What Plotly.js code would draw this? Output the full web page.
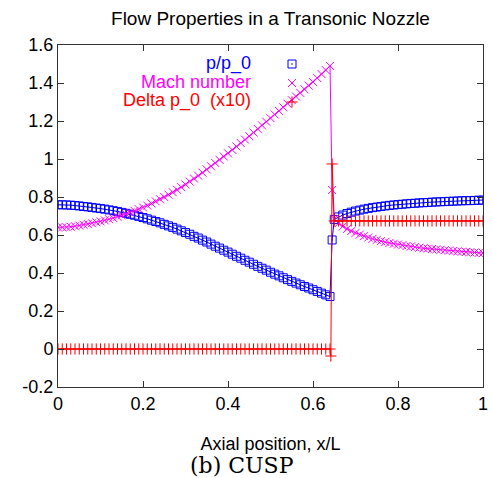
<!DOCTYPE html>
<html>
<head>
<meta charset="utf-8">
<script src="https://cdn.plot.ly/plotly-3.0.1.min.js"></script>
<style>html,body{margin:0;padding:0;background:#fff;}#chart{width:492px;height:478px;}</style>
</head>
<body>
<div id="chart"></div>
<script>
// ---- Data ----
const xPre = [0.00,0.01,0.02,0.03,0.04,0.05,0.06,0.07,0.08,0.09,0.10,0.11,0.12,0.13,0.14,0.15,0.16,0.17,0.18,0.19,0.20,0.21,0.22,0.23,0.24,0.25,0.26,0.27,0.28,0.29,0.30,0.31,0.32,0.33,0.34,0.35,0.36,0.37,0.38,0.39,0.40,0.41,0.42,0.43,0.44,0.45,0.46,0.47,0.48,0.49,0.50,0.51,0.52,0.53,0.54,0.55,0.56,0.57,0.58,0.59,0.60,0.61,0.62,0.63,0.64];
const pPre = [0.759,0.759,0.758,0.757,0.755,0.753,0.750,0.748,0.745,0.742,0.739,0.736,0.732,0.728,0.724,0.719,0.714,0.709,0.704,0.698,0.692,0.685,0.678,0.671,0.664,0.656,0.648,0.640,0.631,0.622,0.613,0.604,0.593,0.584,0.573,0.563,0.552,0.541,0.531,0.520,0.510,0.499,0.488,0.478,0.467,0.457,0.446,0.435,0.425,0.415,0.404,0.394,0.385,0.375,0.365,0.356,0.347,0.338,0.329,0.321,0.312,0.303,0.294,0.285,0.276];
const machPre = [0.640,0.640,0.641,0.643,0.646,0.650,0.654,0.658,0.662,0.667,0.672,0.677,0.683,0.689,0.696,0.703,0.711,0.719,0.727,0.736,0.745,0.755,0.766,0.777,0.788,0.800,0.812,0.825,0.838,0.852,0.866,0.881,0.897,0.912,0.928,0.945,0.962,0.979,0.996,1.013,1.030,1.048,1.066,1.084,1.102,1.120,1.139,1.158,1.177,1.196,1.215,1.234,1.253,1.272,1.291,1.310,1.329,1.348,1.367,1.386,1.405,1.426,1.447,1.468,1.490];
const deltaPre = [0,0,0,0,0,0,0,0,0,0,0,0,0,0,0,0,0,0,0,0,0,0,0,0,0,0,0,0,0,0,0,0,0,0,0,0,0,0,0,0,0,0,0,0,0,0,0,0,0,0,0,0,0,0,0,0,0,0,0,0,0,0,0,0,0];

const xShock = [0.645];
const pShock = [0.574];
const machShock = [0.837];
const xDeltaShock = [0.642, 0.645];
const deltaShock = [-0.037, 0.974];

const xPost = [0.65,0.66,0.67,0.68,0.69,0.70,0.71,0.72,0.73,0.74,0.75,0.76,0.77,0.78,0.79,0.80,0.81,0.82,0.83,0.84,0.85,0.86,0.87,0.88,0.89,0.90,0.91,0.92,0.93,0.94,0.95,0.96,0.97,0.98,0.99,1.00];
const pPost = [0.682,0.695,0.705,0.713,0.720,0.726,0.731,0.736,0.740,0.744,0.747,0.750,0.753,0.756,0.758,0.760,0.762,0.764,0.766,0.767,0.769,0.770,0.771,0.773,0.774,0.775,0.776,0.777,0.778,0.779,0.780,0.781,0.781,0.782,0.783,0.784];
const machPost = [0.685,0.662,0.645,0.632,0.621,0.611,0.602,0.594,0.587,0.580,0.574,0.568,0.563,0.558,0.554,0.550,0.546,0.542,0.539,0.536,0.533,0.530,0.528,0.526,0.524,0.522,0.520,0.518,0.516,0.514,0.512,0.511,0.509,0.508,0.506,0.505];
const deltaPost = [0.674,0.674,0.674,0.674,0.674,0.674,0.674,0.674,0.674,0.674,0.674,0.674,0.674,0.674,0.674,0.674,0.674,0.674,0.674,0.674,0.674,0.674,0.674,0.674,0.674,0.674,0.674,0.674,0.674,0.674,0.674,0.674,0.674,0.674,0.674,0.674];

const seriesNames = ['p/p_0', 'Mach number', 'Delta p_0  (x10)'];
const xTickVals = [0, 0.2, 0.4, 0.6, 0.8, 1];
const xTickText = ['0', '0.2', '0.4', '0.6', '0.8', '1'];
const yTickVals = [-0.2, 0, 0.2, 0.4, 0.6, 0.8, 1, 1.2, 1.4, 1.6];
const yTickText = ['-0.2', '0', '0.2', '0.4', '0.6', '0.8', '1', '1.2', '1.4', '1.6'];

// ---- Build traces ----
const BLUE = '#0000ff', MAG = '#ff00ff', RED = '#ff0000';
const xP = xPre.concat(xShock, xPost);
const yP = pPre.concat(pShock, pPost);
const xM = xPre.concat(xShock, xPost);
const yM = machPre.concat(machShock, machPost);
const xD = xPre.concat(xDeltaShock, xPost);
const yD = deltaPre.concat(deltaShock, deltaPost);

function pair(x, y, color, symbol, size, name) {
  return [
    {x: x, y: y, type: 'scatter', mode: 'lines', showlegend: false, hoverinfo: 'skip',
     line: {color: color, width: 1}},
    {x: x, y: y, type: 'scatter', mode: 'markers', name: ' ', showlegend: true, hovertext: name,
     marker: {color: color, symbol: symbol, size: size, line: {color: color, width: 1}}}
  ];
}
const data = [].concat(
  pair(xP, yP, BLUE, 'square-open-dot', 8, seriesNames[0]),
  pair(xM, yM, MAG, 'x-thin-open', 8, seriesNames[1]),
  pair(xD, yD, RED, 'cross-thin-open', 8, seriesNames[2])
);

const font = 'Liberation Sans, Arial, Helvetica, sans-serif';
const axisCommon = {
  showgrid: false, zeroline: false, showline: true, linecolor: '#333', linewidth: 1,
  mirror: 'ticks', ticks: 'inside', ticklen: 6, tickcolor: '#333', tickwidth: 1,
  tickfont: {family: font, size: 18, color: '#000'}, fixedrange: true
};

const layout = {
  width: 492, height: 478,
  margin: {l: 58, r: 9, t: 45, b: 91},
  paper_bgcolor: '#fff', plot_bgcolor: '#fff',
  font: {family: font, size: 18, color: '#000'},
  title: {text: 'Flow Properties in a Transonic Nozzle', font: {family: font, size: 19, color: '#000'},
          xref: 'paper', x: 0.5, xanchor: 'center', yref: 'container', y: 1 - 18 / 478, yanchor: 'middle'},
  xaxis: Object.assign({}, axisCommon, {range: [0, 1], tickmode: 'array', tickvals: xTickVals, ticktext: xTickText,
          title: {text: 'Axial position, x/L', font: {family: font, size: 18, color: '#000'}, standoff: 24}}),
  yaxis: Object.assign({}, axisCommon, {range: [-0.2, 1.6], tickmode: 'array', tickvals: yTickVals, ticktext: yTickText}),
  showlegend: true,
  legend: {x: (292 - 20 - 58) / 425, xanchor: 'left', y: (387 - 49.5) / 342, yanchor: 'top',
           bgcolor: 'rgba(0,0,0,0)', borderwidth: 0, tracegroupgap: 0,
           font: {family: font, size: 11}, itemwidth: 30},
  annotations: [
    {text: seriesNames[0], xref: 'paper', yref: 'paper', x: (253 - 58) / 425, y: (387 - 63) / 342,
     xanchor: 'right', yanchor: 'middle', showarrow: false, font: {family: font, size: 18, color: BLUE}},
    {text: seriesNames[1], xref: 'paper', yref: 'paper', x: (253 - 58) / 425, y: (387 - 81.5) / 342,
     xanchor: 'right', yanchor: 'middle', showarrow: false, font: {family: font, size: 18, color: MAG}},
    {text: seriesNames[2], xref: 'paper', yref: 'paper', x: (253 - 58) / 425, y: (387 - 100) / 342,
     xanchor: 'right', yanchor: 'middle', showarrow: false, font: {family: font, size: 18, color: RED}},
    {text: '(b) CUSP', xref: 'paper', yref: 'paper', x: (242 - 58) / 425, y: (387 - 466) / 342,
     xanchor: 'center', yanchor: 'middle', showarrow: false, font: {family: 'DejaVu Serif, serif', size: 22, color: '#000'}}
  ]
};

Plotly.newPlot('chart', data, layout, {displayModeBar: false, staticPlot: true});
</script>
</body>
</html>
